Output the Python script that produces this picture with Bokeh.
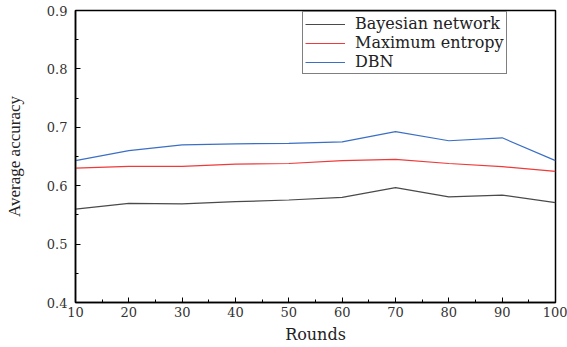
from bokeh.plotting import figure
from bokeh.embed import file_html
from bokeh.resources import INLINE
from bokeh.models import Legend, LegendItem, FixedTicker, Range1d

rounds = [10, 20, 30, 40, 50, 60, 70, 80, 90, 100]
bayesian = [0.560, 0.5696, 0.569, 0.5726, 0.5755, 0.580, 0.5966, 0.581, 0.584, 0.571]
maxent = [0.630, 0.633, 0.633, 0.637, 0.638, 0.643, 0.645, 0.638, 0.6326, 0.6245]
dbn = [0.643, 0.660, 0.670, 0.6715, 0.6726, 0.675, 0.6926, 0.677, 0.682, 0.643]
y_ticks = [0.4, 0.5, 0.6, 0.7, 0.8, 0.9]
x_ticks = [10, 20, 30, 40, 50, 60, 70, 80, 90, 100]
series_names = ["Bayesian network", "Maximum entropy", "DBN"]
colors = ["#4a4a4a", "#f03a3a", "#3b6fc6"]

p = figure(width=567, height=347, output_backend="svg", toolbar_location=None,
           x_range=Range1d(10, 100), y_range=Range1d(0.4, 0.9),
           min_border_left=75, min_border_right=12, min_border_top=10, min_border_bottom=45)
p.xgrid.visible = False
p.ygrid.visible = False
p.outline_line_color = "black"
p.outline_line_width = 1.5
p.background_fill_color = "white"
p.border_fill_color = "white"

serif = "DejaVu Serif"
for ax in (p.xaxis[0], p.yaxis[0]):
    ax.axis_line_color = "black"
    ax.axis_line_width = 1.5
    ax.major_tick_line_color = "black"
    ax.minor_tick_line_color = "black"
    ax.major_tick_in = 5
    ax.major_tick_out = 0
    ax.minor_tick_in = 3
    ax.minor_tick_out = 0
    ax.major_label_text_font = serif
    ax.major_label_text_font_size = "13px"
    ax.major_label_text_color = "#333333"
    ax.axis_label_text_font_style = "normal"
    ax.axis_label_text_color = "#222222"

p.xaxis[0].ticker = FixedTicker(ticks=x_ticks, minor_ticks=[15, 25, 35, 45, 55, 65, 75, 85, 95])
p.yaxis[0].ticker = FixedTicker(ticks=y_ticks, minor_ticks=[0.45, 0.55, 0.65, 0.75, 0.85])
p.yaxis[0].formatter.use_scientific = False
p.xaxis[0].major_label_standoff = 4
p.yaxis[0].major_label_standoff = 8
p.xaxis[0].axis_label = "Rounds"
p.xaxis[0].axis_label_text_font = serif
p.xaxis[0].axis_label_text_font_size = "16px"
p.xaxis[0].axis_label_standoff = 5
p.yaxis[0].axis_label = "Average accuracy"
p.yaxis[0].axis_label_text_font = "Liberation Serif"
p.yaxis[0].axis_label_text_font_size = "17px"
p.yaxis[0].axis_label_standoff = 20

items = []
for name, ys, c in zip(series_names, [bayesian, maxent, dbn], colors):
    r = p.line(rounds, ys, line_color=c, line_width=1.2)
    items.append(LegendItem(label=name, renderers=[r]))

legend = Legend(items=items, location=(227, 228))
legend.label_text_font = serif
legend.label_text_font_size = "16px"
legend.label_text_color = "#222222"
legend.label_height = 14
legend.glyph_height = 14
legend.glyph_width = 40
legend.label_standoff = 10
legend.spacing = 0
legend.padding = 2
legend.margin = 0
legend.border_line_color = "black"
legend.border_line_width = 1.2
legend.background_fill_alpha = 1
p.add_layout(legend, "center")

open("out.html", "w").write(file_html(p, INLINE))
